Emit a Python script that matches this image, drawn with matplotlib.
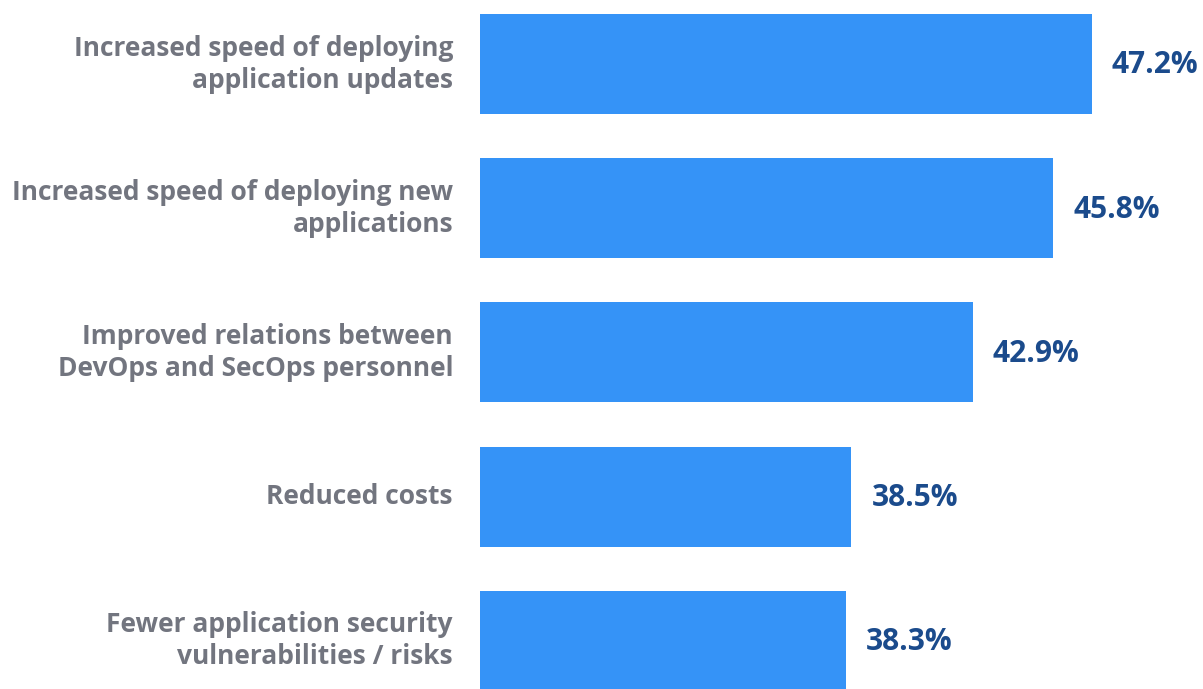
import matplotlib
matplotlib.use("Agg")
import matplotlib.pyplot as plt

plt.rcParams['font.family'] = ['Open Sans', 'DejaVu Sans']

labels = [
    "Increased speed of deploying\napplication updates",
    "Increased speed of deploying new\napplications",
    "Improved relations between\nDevOps and SecOps personnel",
    "Reduced costs",
    "Fewer application security\nvulnerabilities / risks",
]
values = [47.2, 45.8, 42.9, 38.5, 38.3]

bar_color = "#3593f7"
label_color = "#72757f"
value_color = "#1b4b8c"

fig = plt.figure(figsize=(12.03, 6.89), dpi=100)
ax = fig.add_axes([480 / 1203, 0, 723 / 1203, 1])

ypos = list(range(len(values)))
ax.barh(ypos, values, height=0.693, color=bar_color)

ax.set_xlim(25.06, 51.22)
ax.set_ylim(4.334, -0.444)

# value labels right of bars
for y, v in zip(ypos, values):
    ax.text(v + 0.72, y + 0.01, f"{v:.1f}%", va="center", ha="left",
            fontsize=21.5, fontweight="bold", color=value_color)

# category labels left of the axes
for y, lab in zip(ypos, labels):
    ax.text(-27 / 723, y, lab, transform=ax.get_yaxis_transform(),
            ha="right", va="center", fontsize=19, fontweight="bold",
            color=label_color, linespacing=1.24)

ax.axis("off")
fig.savefig("out.png", dpi=100)
